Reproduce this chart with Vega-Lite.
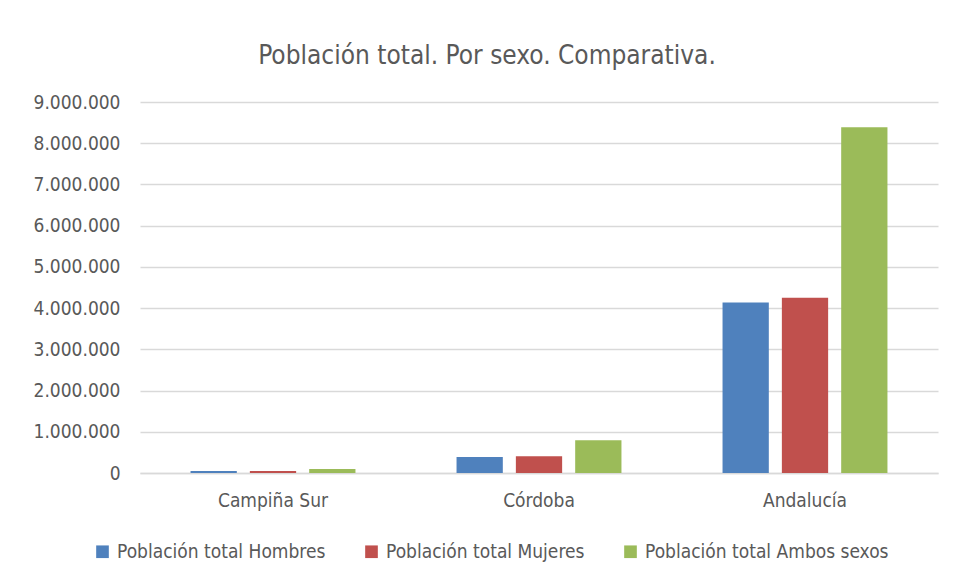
{
  "$schema": "https://vega.github.io/schema/vega-lite/v6.json",
  "width": 798,
  "height": 371,
  "autosize": {"type": "none"},
  "padding": {"left": 140, "top": 102, "right": 15, "bottom": 105},
  "background": "white",
  "title": {
    "text": "Población total. Por sexo. Comparativa.",
    "fontSize": 26,
    "font": "DejaVu Sans Condensed, Roboto",
    "fontWeight": "normal",
    "color": "#595959",
    "anchor": "middle",
    "dx": -52,
    "offset": 24
  },
  "config": {
    "locale": {"number": {"decimal": ",", "thousands": ".", "grouping": [3], "currency": ["", " €"]}},
    "font": "DejaVu Sans Condensed, Roboto",
    "view": {"stroke": null}
  },
  "data": {
    "values": [
      {"zona": "Campiña Sur", "serie": "Población total Hombres", "valor": 47500},
      {"zona": "Campiña Sur", "serie": "Población total Mujeres", "valor": 48500},
      {"zona": "Campiña Sur", "serie": "Población total Ambos sexos", "valor": 96000},
      {"zona": "Córdoba", "serie": "Población total Hombres", "valor": 390000},
      {"zona": "Córdoba", "serie": "Población total Mujeres", "valor": 405000},
      {"zona": "Córdoba", "serie": "Población total Ambos sexos", "valor": 795000},
      {"zona": "Andalucía", "serie": "Población total Hombres", "valor": 4135000},
      {"zona": "Andalucía", "serie": "Población total Mujeres", "valor": 4250000},
      {"zona": "Andalucía", "serie": "Población total Ambos sexos", "valor": 8385000}
    ]
  },
  "mark": {"type": "bar"},
  "encoding": {
    "x": {
      "field": "zona",
      "type": "nominal",
      "sort": ["Campiña Sur", "Córdoba", "Andalucía"],
      "scale": {"paddingInner": 0.38, "paddingOuter": 0.19},
      "axis": {
        "title": null,
        "labelAngle": 0,
        "labelFontSize": 19,
        "labelColor": "#595959",
        "labelPadding": 18,
        "ticks": false,
        "domainColor": "#d9d9d9",
        "domainWidth": 1.5
      }
    },
    "xOffset": {
      "field": "serie",
      "type": "nominal",
      "sort": ["Población total Hombres", "Población total Mujeres", "Población total Ambos sexos"],
      "scale": {"paddingInner": 0.22, "paddingOuter": 0}
    },
    "y": {
      "field": "valor",
      "type": "quantitative",
      "scale": {"domain": [0, 9000000]},
      "axis": {
        "title": null,
        "values": [0, 1000000, 2000000, 3000000, 4000000, 5000000, 6000000, 7000000, 8000000, 9000000],
        "format": ",d",
        "labelOverlap": false,
        "labelFontSize": 19,
        "labelColor": "#595959",
        "labelPadding": 20,
        "ticks": false,
        "domain": false,
        "gridColor": "#d9d9d9",
        "gridWidth": 1.5
      }
    },
    "color": {
      "field": "serie",
      "type": "nominal",
      "sort": ["Población total Hombres", "Población total Mujeres", "Población total Ambos sexos"],
      "scale": {
        "domain": ["Población total Hombres", "Población total Mujeres", "Población total Ambos sexos"],
        "range": ["#4f81bd", "#c0504d", "#9bbb59"]
      },
      "legend": {
        "title": null,
        "orient": "none",
        "legendX": -47,
        "legendY": 440,
        "direction": "horizontal",
        "columns": 3,
        "columnPadding": 36,
        "symbolType": "square",
        "symbolSize": 160,
        "symbolStrokeWidth": 0,
        "labelFontSize": 19,
        "labelLimit": 400,
        "labelColor": "#595959",
        "labelOffset": 5
      }
    }
  }
}
